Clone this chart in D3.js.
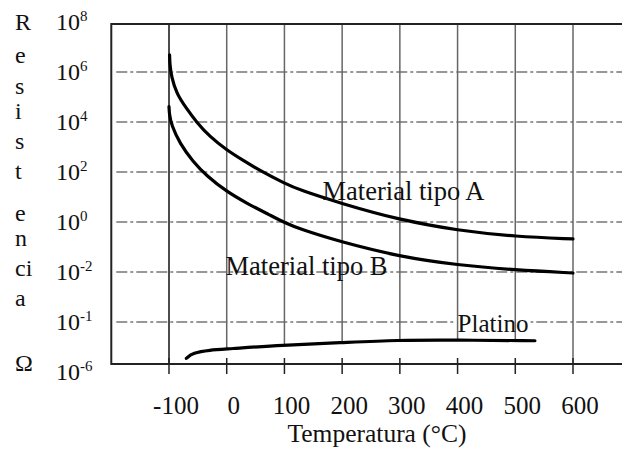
<!DOCTYPE html>
<html><head><meta charset="utf-8">
<script src="https://cdn.jsdelivr.net/npm/d3@7"></script>
<style>
html,body{margin:0;padding:0;background:#fff;}
svg{display:block;}
text{font-family:"Liberation Serif","Times New Roman",serif;fill:#111;}
</style></head>
<body><svg id="c" width="622" height="453"></svg>
<script>
// ---- data ----
const tempTicks = [-100, 0, 100, 200, 300, 400, 500, 600];
const yExponents = [8, 6, 4, 2, 0, -2, -4, -6];
const yTickLabels = ["8", "6", "4", "2", "0", "-2", "-1", "-6"];
const yTitleLetters = ["R", "e", "s", "i", "s", "t", "e", "n", "ci", "a", "Ω"];

const tempA = [-99, -98.5, -95.8, -87.2, -69.8, -52.5, -29.5, 0, 27.7, 57.2, 100.5, 126.5, 195.8, 299.8, 400, 500.8, 600];
const resA  = [4.8e6, 2.0e6, 6.5e5, 1.4e5, 3.5e4, 1.0e4, 2.6e3, 760, 300, 115, 35, 19, 5.75, 1.2, 0.457, 0.26, 0.21];

const tempB = [-100, -99.3, -95.8, -81.4, -58.4, -35.2, 0, 34.7, 74.7, 100.5, 126.5, 195.8, 299.8, 400, 500, 600];
const resB  = [4.1e4, 2.0e4, 7.6e3, 1.4e3, 258, 72, 16.3, 5.6, 1.9, 0.93, 0.525, 0.163, 0.041, 0.019, 0.012, 0.0091];

const tempPt = [-70, -59, -29, 0, 97, 196, 296, 398, 534];
const resPt  = [3.5e-6, 5.8e-6, 7.6e-6, 8.3e-6, 1.2e-5, 1.48e-5, 1.9e-5, 1.9e-5, 1.78e-5];

const xTitle = "Temperatura (°C)";
const labelA = "Material tipo A", labelB = "Material tipo B", labelPt = "Platino";

// ---- layout ----
const svg = d3.select("#c");
const x = d3.scaleLinear().domain([-100, 600]).range([169, 573]);
const y = d3.scaleLog().domain([1e-6, 1e8]).range([372, 22]);
const frameLeft = x(-200), frameRight = x(700), frameTop = 24, frameBottom = 364;

// horizontal gridlines (dash-dot)
svg.append("g").selectAll("line").data(yExponents.filter(e => e < 8 && e > -6)).join("line")
  .attr("x1", frameLeft + 5).attr("x2", frameRight)
  .attr("y1", e => y(Math.pow(10, e))).attr("y2", e => y(Math.pow(10, e)))
  .attr("stroke", "#333").attr("stroke-width", 1.2)
  .attr("stroke-dasharray", "11,3,3,3");

// white box behind Platino label
const ptLabelX = x(400), ptLabelY = y(1e-4) + 10;
const ptText = svg.append("text").attr("x", ptLabelX).attr("y", ptLabelY)
  .attr("font-size", 25).text(labelPt);
const bb = ptText.node().getBBox();
svg.insert("rect", "text").attr("x", bb.x - 2).attr("y", bb.y + 5).attr("width", bb.width + 4)
  .attr("height", bb.height - 8).attr("fill", "#fff");
ptText.remove();

// interpolate platinum curve for gridline ends
function ptAt(t) {
  const lx = tempPt, ly = resPt.map(v => Math.log10(v));
  if (t <= lx[0]) return Math.pow(10, ly[0]);
  for (let i = 1; i < lx.length; i++) {
    if (t <= lx[i]) { const f = (t - lx[i-1]) / (lx[i] - lx[i-1]); return Math.pow(10, ly[i-1] + f * (ly[i] - ly[i-1])); }
  }
  return Math.pow(10, ly[ly.length - 1]);
}

// vertical gridlines
svg.append("g").selectAll("line").data(tempTicks).join("line")
  .attr("x1", d => x(d)).attr("x2", d => x(d))
  .attr("y1", frameTop)
  .attr("y2", d => (d === -100 || d === 600) ? frameBottom : y(ptAt(d)))
  .attr("stroke", d => d === -100 ? "#111" : "#666")
  .attr("stroke-width", 1.5);

// frame
svg.append("path")
  .attr("d", `M${frameRight},${frameTop}H${frameLeft}V${frameBottom}H${frameRight}`)
  .attr("fill", "none").attr("stroke", "#222").attr("stroke-width", 2);

// bottom ticks
svg.append("g").selectAll("line").data(tempTicks).join("line")
  .attr("x1", d => x(d)).attr("x2", d => x(d))
  .attr("y1", frameBottom - 6).attr("y2", frameBottom + 10)
  .attr("stroke", "#222").attr("stroke-width", 1.5);

// curves
const line = d3.line().x(d => x(d[0])).y(d => y(d[1])).curve(d3.curveBasis);
[[tempA, resA], [tempB, resB], [tempPt, resPt]].forEach(([t, r]) => {
  svg.append("path").datum(t.map((v, i) => [v, r[i]]))
    .attr("d", line).attr("fill", "none").attr("stroke", "#000")
    .attr("stroke-width", 3.2).attr("stroke-linecap", "round");
});

// x tick labels
svg.append("g").selectAll("text").data(tempTicks).join("text")
  .attr("x", d => x(d) + 7).attr("y", 414)
  .attr("text-anchor", "middle").attr("font-size", 25)
  .text(d => d);

// x title
svg.append("text").attr("x", x(250) + 6).attr("y", 442)
  .attr("text-anchor", "middle").attr("font-size", 25.5).text(xTitle);

// y tick labels
const yl = svg.append("g").selectAll("text").data(yExponents).join("text")
  .attr("x", 56).attr("y", e => y(Math.pow(10, e)) + 8)
  .attr("font-size", 24);
yl.append("tspan").text("10");
yl.append("tspan").attr("dy", -9).attr("font-size", 15)
  .text((e, i) => yTickLabels[i]);

// y title (vertical letters)
const letterBase = [30, 63, 94, 119, 149, 179, 221, 246, 276, 306, 371];
svg.append("g").selectAll("text").data(yTitleLetters).join("text")
  .attr("x", 15).attr("y", (d, i) => letterBase[i])
  .attr("font-size", 24).text(d => d);

// curve labels
svg.append("text").attr("x", x(166)).attr("y", y(Math.pow(10, 0.9)))
  .attr("font-size", 26.5).text(labelA);
svg.append("text").attr("x", x(-2)).attr("y", y(Math.pow(10, -2.12)))
  .attr("font-size", 26.5).text(labelB);
svg.append("text").attr("x", ptLabelX).attr("y", ptLabelY)
  .attr("font-size", 25).text(labelPt);
</script></body></html>
